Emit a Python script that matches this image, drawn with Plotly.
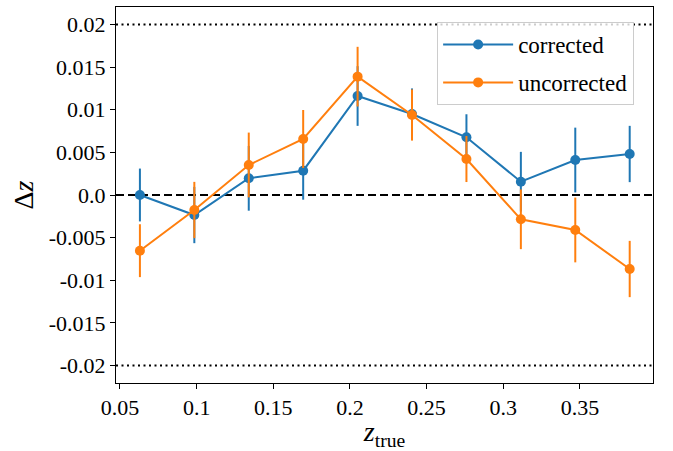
import plotly.graph_objects as go

z_true = [0.063, 0.0985, 0.134, 0.1695, 0.205, 0.2405, 0.276, 0.3115, 0.347, 0.3825]
dz_corrected = [0.0, -0.00235, 0.00196, 0.00285, 0.01161, 0.0095, 0.00677, 0.00156, 0.0041, 0.00481]
dz_uncorrected = [-0.00653, -0.00176, 0.00352, 0.00657, 0.01388, 0.00938, 0.00422, -0.00285, -0.0041, -0.00868]
dz_err = [0.0031, 0.0033, 0.0038, 0.0034, 0.0035, 0.003, 0.0027, 0.0035, 0.0038, 0.0033]

x_ticks = [0.05, 0.1, 0.15, 0.2, 0.25, 0.3, 0.35]
x_ticktext = ["0.05", "0.1", "0.15", "0.2", "0.25", "0.3", "0.35"]
y_ticks = [0.02, 0.015, 0.01, 0.005, 0.0, -0.005, -0.01, -0.015, -0.02]
y_ticktext = ["0.02", "0.015", "0.01", "0.005", "0.0", "-0.005", "-0.01", "-0.015", "-0.02"]

BLUE = "#1f77b4"
ORANGE = "#ff7f0e"
FONT = "Liberation Serif"

fig = go.Figure()
for name, vals, col in [("corrected", dz_corrected, BLUE), ("uncorrected", dz_uncorrected, ORANGE)]:
    fig.add_trace(go.Scatter(
        x=z_true, y=vals, name=name, mode="lines+markers", legendgroup=name,
        line=dict(color=col, width=2),
        marker=dict(color=col, size=10),
        error_y=dict(type="data", array=dz_err, visible=True, color=col, thickness=2, width=0),
    ))

for yv, dash, w in [(0.02, "2px,3.5px", 2), (-0.02, "2px,3.5px", 2), (0.0, "8px,4px", 2)]:
    fig.add_shape(type="line", xref="paper", x0=0, x1=1, yref="y", y0=yv, y1=yv,
                  line=dict(color="black", width=w, dash=dash), layer="below")

axis_common = dict(showline=True, linecolor="black", linewidth=1, mirror=True,
                   ticks="outside", ticklen=5, tickwidth=1, tickcolor="black",
                   showgrid=False, zeroline=False,
                   tickfont=dict(family=FONT, size=22, color="black"))

fig.update_layout(
    width=673, height=451,
    margin=dict(l=116, r=20, t=7, b=68, autoexpand=False),
    paper_bgcolor="white", plot_bgcolor="white",
    font=dict(family=FONT, size=22, color="black"),
    xaxis=dict(range=[0.0474, 0.3977], tickvals=x_ticks, ticktext=x_ticktext,
               title=dict(text="<i>z</i><sub>true</sub>", font=dict(size=28), standoff=8),
               **axis_common),
    yaxis=dict(range=[-0.02205, 0.02205], tickvals=y_ticks, ticktext=y_ticktext,
               title=dict(text="Δ<i>z</i>", font=dict(size=28), standoff=6),
               **axis_common),
    legend=dict(x=0.598, y=0.96, xanchor="left", yanchor="top",
                bgcolor="rgba(255,255,255,0.8)", bordercolor="#cccccc", borderwidth=1,
                font=dict(family=FONT, size=23, color="black"), itemwidth=70,
                traceorder="grouped", tracegroupgap=5),
    showlegend=True,
)

fig.write_html("out.html")
